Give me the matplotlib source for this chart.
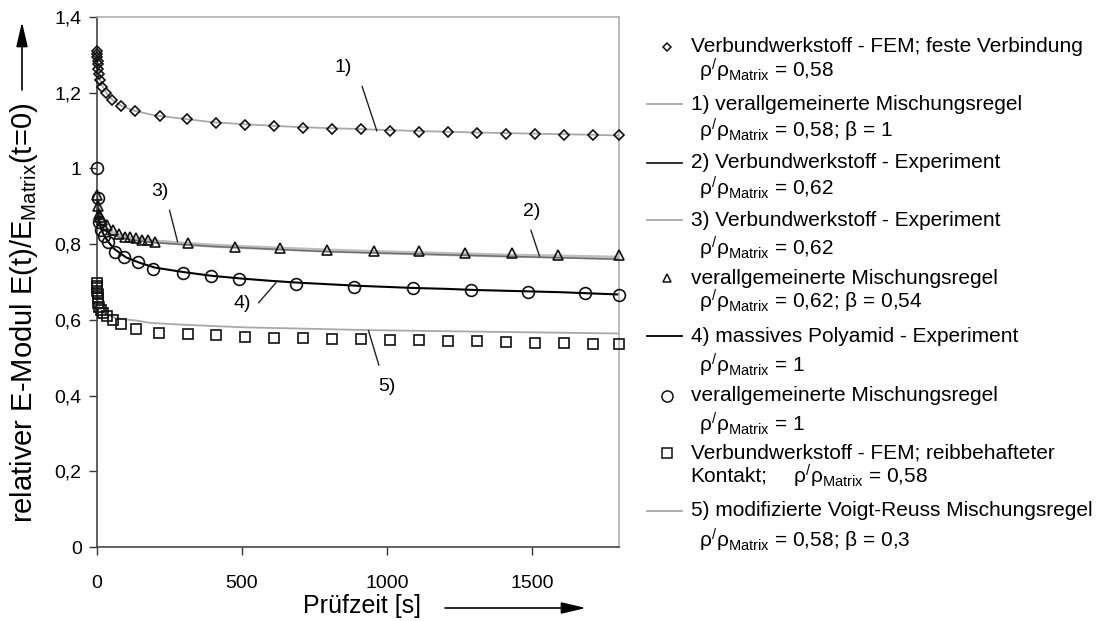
import numpy as np
import matplotlib
matplotlib.use('Agg')
import matplotlib.pyplot as plt
from matplotlib.lines import Line2D
from matplotlib.ticker import FuncFormatter

plt.rcParams['font.family'] = ['Liberation Sans', 'DejaVu Sans']
plt.rcParams['mathtext.fontset'] = 'custom'
plt.rcParams['mathtext.rm'] = 'Liberation Sans'
plt.rcParams['mathtext.it'] = 'Liberation Sans'
plt.rcParams['mathtext.bf'] = 'Liberation Sans:bold'

# ── data ──────────────────────────────────────────────────────────────────────
# diamonds: Verbundwerkstoff - FEM; feste Verbindung
t_fem = [0, 0.5, 1, 2, 3, 4, 6, 9, 17, 32, 52, 83, 132, 216, 310, 410, 510, 610,
         710, 810, 910, 1010, 1110, 1210, 1310, 1410, 1510, 1610, 1710, 1800]
e_fem = [1.310, 1.303, 1.295, 1.285, 1.275, 1.262, 1.250, 1.233, 1.215, 1.198,
         1.180, 1.165, 1.151, 1.138, 1.130, 1.121, 1.116, 1.112, 1.108, 1.105,
         1.103, 1.100, 1.097, 1.096, 1.093, 1.092, 1.091, 1.088, 1.087, 1.087]

# 1) verallgemeinerte Mischungsregel, rho=0.58, beta=1
t_1 = [0, 2, 5, 10, 20, 35, 55, 85, 130, 200, 300, 400, 500, 700, 900, 1100,
       1300, 1500, 1700, 1800]
e_1 = [1.31, 1.28, 1.255, 1.235, 1.215, 1.197, 1.18, 1.165, 1.152, 1.140, 1.131,
       1.122, 1.117, 1.109, 1.104, 1.099, 1.095, 1.092, 1.089, 1.087]

# 2) / 3) Verbundwerkstoff - Experiment, rho=0.62
t_23 = [0, 3, 8, 15, 30, 50, 80, 120, 200, 300, 400, 600, 800, 1000, 1200, 1400,
        1600, 1800]
e_2 = [0.930, 0.890, 0.865, 0.850, 0.835, 0.825, 0.817, 0.811, 0.804, 0.799,
       0.794, 0.787, 0.780, 0.776, 0.772, 0.768, 0.764, 0.760]
e_3 = [0.935, 0.900, 0.875, 0.860, 0.842, 0.831, 0.822, 0.815, 0.807, 0.801,
       0.796, 0.789, 0.783, 0.778, 0.774, 0.770, 0.767, 0.764]

# triangles: verallgemeinerte Mischungsregel, rho=0.62, beta=0.54
t_tri = [0, 3, 6, 9, 17, 34, 55, 75, 98, 115, 136, 155, 175, 201, 314, 477, 632,
         793, 954, 1109, 1270, 1431, 1589, 1800]
e_tri = [0.929, 0.900, 0.880, 0.872, 0.863, 0.850, 0.837, 0.828, 0.819, 0.818,
         0.815, 0.811, 0.810, 0.806, 0.803, 0.793, 0.789, 0.784, 0.781, 0.781,
         0.777, 0.777, 0.771, 0.771]

# 4) massives Polyamid - Experiment
t_4 = [0, 3, 7, 14, 25, 40, 60, 100, 150, 200, 300, 400, 500, 600, 700, 800, 900,
       1000, 1100, 1200, 1300, 1400, 1500, 1600, 1700, 1800]
e_4 = [0.925, 0.880, 0.860, 0.840, 0.822, 0.805, 0.787, 0.765, 0.750, 0.738,
       0.726, 0.716, 0.709, 0.703, 0.698, 0.694, 0.690, 0.687, 0.684, 0.682,
       0.679, 0.677, 0.675, 0.673, 0.670, 0.667]

# circles: verallgemeinerte Mischungsregel, rho=1
t_circ = [0, 3, 7, 14, 24, 38, 62, 94, 142, 194, 295, 394, 488, 687, 887, 1088,
          1289, 1485, 1683, 1800]
e_circ = [1.000, 0.921, 0.859, 0.837, 0.822, 0.805, 0.779, 0.766, 0.752, 0.735,
          0.724, 0.716, 0.709, 0.695, 0.687, 0.683, 0.678, 0.674, 0.670, 0.666]

# squares: Verbundwerkstoff - FEM; reibbehafteter Kontakt
t_sq = [0, 0.5, 1, 1.5, 2, 3, 5, 8, 13, 20, 33, 54, 82, 133, 215, 315, 410, 510,
        611, 711, 811, 910, 1010, 1110, 1210, 1310, 1410, 1510, 1610, 1710, 1800]
e_sq = [0.697, 0.690, 0.683, 0.675, 0.668, 0.657, 0.645, 0.634, 0.626, 0.618,
        0.610, 0.600, 0.589, 0.577, 0.566, 0.563, 0.560, 0.556, 0.553, 0.552,
        0.550, 0.549, 0.547, 0.546, 0.545, 0.543, 0.542, 0.540, 0.538, 0.537, 0.535]

# 5) modifizierte Voigt-Reuss Mischungsregel
t_5 = [0, 2, 5, 10, 20, 35, 60, 100, 137, 183, 300, 516, 700, 930, 1200, 1500, 1800]
e_5 = [0.690, 0.665, 0.645, 0.630, 0.620, 0.612, 0.606, 0.601, 0.598, 0.592,
       0.587, 0.580, 0.577, 0.573, 0.570, 0.567, 0.564]

# curve labels: (text, label x/y, leader start, leader end)
curve_labels = [
    ('1)', (850, 1.266), (914, 1.217), (965, 1.099)),
    ('2)', (1500, 0.885), (1496, 0.837), (1526, 0.768)),
    ('3)', (218, 0.938), (250, 0.890), (278, 0.806)),
    ('4)', (502, 0.643), (557, 0.645), (617, 0.698)),
    ('5)', (1000, 0.425), (936, 0.572), (972, 0.480)),
]

W, H = 1098, 621
fig = plt.figure(figsize=(W / 100, H / 100), dpi=100)
ax = fig.add_axes([97 / W, 1 - 547 / H, 522 / W, 530 / H])

LIGHT = '#a8a8a8'
ax.plot(t_23, e_3, color='#bdbdbd', lw=3.0, zorder=2)
ax.plot(t_23, e_2, color='#6e6e6e', lw=1.1, zorder=2)
ax.plot(t_1, e_1, color=LIGHT, lw=1.3, zorder=2)
ax.plot(t_4, e_4, color='black', lw=1.5, zorder=2)
ax.plot(t_5, e_5, color=LIGHT, lw=1.3, zorder=2)

mk = dict(ls='none', mfc='none', mec='#111111', mew=1.2, clip_on=False, zorder=3)
ax.plot(t_fem, e_fem, marker='D', ms=5.2, **mk)
ax.plot(t_tri, e_tri, marker='^', ms=7.0, **mk)
ax.plot(t_circ, e_circ, marker='o', ms=8.5, **mk)
ax.plot(t_sq, e_sq, marker='s', ms=7.2, **mk)

for txt, pos, p0, p1 in curve_labels:
    ax.text(pos[0], pos[1], txt, fontsize=14, ha='center', va='center')
    ax.annotate('', xy=p1, xytext=p0,
                arrowprops=dict(arrowstyle='-', lw=1.0, color='#222222',
                                shrinkA=0, shrinkB=0))

ax.set_xlim(0, 1800)
ax.set_ylim(0, 1.4)
ax.set_xticks([0, 500, 1000, 1500])
ax.set_yticks(np.arange(0, 1.41, 0.2))


def comma(v, pos):
    s = f'{v:.1f}'.rstrip('0').rstrip('.')
    return s.replace('.', ',')


ax.yaxis.set_major_formatter(FuncFormatter(comma))
ax.tick_params(direction='out', length=6, width=1, colors='#333333',
               labelsize=14, labelcolor='black')
ax.tick_params(axis='y', pad=5)
ax.tick_params(axis='x', pad=14)
for s in ['left', 'bottom']:
    ax.spines[s].set_color('#444444')
    ax.spines[s].set_linewidth(1.2)
for s in ['top', 'right']:
    ax.spines[s].set_color('#b0b0b0')
    ax.spines[s].set_linewidth(1.2)

# axis labels with arrows
fig.text(362 / W, 1 - 606 / H, 'Prüfzeit [s]', fontsize=18, ha='center',
         va='center')
fig.add_artist(plt.Annotation('', xy=(586 / W, 1 - 608 / H),
                              xytext=(445 / W, 1 - 608 / H),
                              xycoords='figure fraction',
                              arrowprops=dict(arrowstyle='-|>,head_length=1.5,head_width=0.35',
                                              color='black', lw=1.2,
                                              shrinkA=0, shrinkB=0)))
fig.text(24 / W, 1 - 313 / H,
         r'relativer E-Modul E(t)/$\mathrm{E}_{\mathrm{Matrix}}$(t=0)',
         fontsize=21, rotation=90, ha='center', va='center')
fig.add_artist(plt.Annotation('', xy=(22 / W, 1 - 22 / H),
                              xytext=(22 / W, 1 - 90 / H),
                              xycoords='figure fraction',
                              arrowprops=dict(arrowstyle='-|>,head_length=1.5,head_width=0.35',
                                              color='black', lw=1.2,
                                              shrinkA=0, shrinkB=0)))

# legend, drawn by hand to keep the two-line entries
RHO = r'$\rho^{/}\rho_{\mathrm{Matrix}}$'
legend = [
    ('D', None, 46.7, 'Verbundwerkstoff - FEM; feste Verbindung', 70, RHO + ' = 0,58'),
    (None, '#a8a8a8', 104, '1) verallgemeinerte Mischungsregel', 130, RHO + ' = 0,58; β = 1'),
    (None, '#222222', 162.7, '2) Verbundwerkstoff - Experiment', 188, RHO + ' = 0,62'),
    (None, '#a8a8a8', 220, '3) Verbundwerkstoff - Experiment', 248, RHO + ' = 0,62'),
    ('^', None, 278, 'verallgemeinerte Mischungsregel', 301.7, RHO + ' = 0,62; β = 0,54'),
    (None, 'black', 336, '4) massives Polyamid - Experiment', 365, RHO + ' = 1'),
    ('o', None, 395.7, 'verallgemeinerte Mischungsregel', 424, RHO + ' = 1'),
    ('s', None, 453.3, 'Verbundwerkstoff - FEM; reibbehafteter', 476, None),
    (None, '#a8a8a8', 510.7, '5) modifizierte Voigt-Reuss Mischungsregel', 540.7,
     RHO + ' = 0,58; β = 0,3'),
]
msizes = {'D': 4.0, '^': 6.0, 'o': 8.0, 's': 6.5}
LFS = 15
for marker, lcol, y1, txt1, y2, txt2 in legend:
    if marker:
        fig.add_artist(Line2D([666.7 / W], [1 - y1 / H], marker=marker,
                              ms=msizes[marker], mfc='none', mec='#111111',
                              mew=1.1, transform=fig.transFigure))
    else:
        fig.add_artist(Line2D([647 / W, 682 / W], [1 - y1 / H, 1 - y1 / H],
                              color=lcol, lw=1.3, transform=fig.transFigure))
    fig.text(690.7 / W, 1 - y1 / H, txt1, fontsize=LFS, ha='left', va='center')
    if txt2:
        fig.text(699 / W, 1 - y2 / H, txt2, fontsize=LFS, ha='left', va='center')
fig.text(690.7 / W, 1 - 476 / H, 'Kontakt;', fontsize=LFS, ha='left', va='center')
fig.text(792.7 / W, 1 - 476 / H, RHO + ' = 0,58', fontsize=LFS, ha='left',
         va='center')

fig.savefig('out.png', dpi=100)
